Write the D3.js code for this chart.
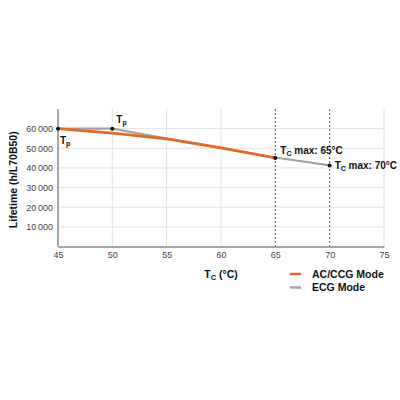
<!DOCTYPE html>
<html>
<head>
<meta charset="utf-8">
<script src="https://cdn.jsdelivr.net/npm/d3@7"></script>
<style>
  html, body { margin: 0; padding: 0; background: #fff; }
  svg { display: block; font-family: "Liberation Sans", Arial, sans-serif; }
</style>
</head>
<body>
<svg id="chart" width="400" height="400"></svg>
<script>
// --- data ---
const tempsAC = [45, 50, 55, 60, 65];
const lifeAC = [60000, 57700, 54800, 50200, 45100];
const tempsECG = [45, 50, 55, 60, 65, 70];
const lifeECG = [60000, 60000, 55000, 50200, 45300, 41300];
const xTicks = [45, 50, 55, 60, 65, 70, 75];
const yTicks = [10000, 20000, 30000, 40000, 50000, 60000];
const maxTemps = [65, 70];

const orange = "#e2692a";
const grey = "#a3a3a3";

const svg = d3.select("#chart");
const plotLeft = 58, plotRight = 384, plotTop = 109, plotBottom = 246.5;

const x = d3.scaleLinear().domain([45, 75]).range([plotLeft, plotRight]);
const y = d3.scaleLinear().domain([0, 70000]).range([plotBottom, plotTop]);

// grid
const grid = svg.append("g");
grid.selectAll("line.h").data(yTicks).join("line")
    .attr("x1", plotLeft).attr("x2", plotRight)
    .attr("y1", d => y(d)).attr("y2", d => y(d))
    .attr("stroke", "#e2e2e2").attr("stroke-width", 1);
grid.selectAll("line.v").data(xTicks.filter(d => d !== 45 && !maxTemps.includes(d))).join("line")
    .attr("x1", d => x(d)).attr("x2", d => x(d))
    .attr("y1", plotTop).attr("y2", plotBottom)
    .attr("stroke", "#e2e2e2").attr("stroke-width", 1);

// dashed Tc max lines
svg.append("g").selectAll("line").data(maxTemps).join("line")
    .attr("x1", d => x(d)).attr("x2", d => x(d))
    .attr("y1", plotTop).attr("y2", plotBottom)
    .attr("stroke", "#333").attr("stroke-width", 0.8)
    .attr("stroke-dasharray", "2,2");

// axes
const fmt = d => d3.format(",")(d).replace(",", "\u2009");
const yAxis = svg.append("g").attr("transform", `translate(${plotLeft},0)`)
    .call(d3.axisLeft(y).tickValues(yTicks).tickSize(0).tickPadding(5).tickFormat(fmt));
const xAxis = svg.append("g").attr("transform", `translate(0,${plotBottom})`)
    .call(d3.axisBottom(x).tickValues(xTicks).tickSize(0).tickPadding(5));
[xAxis, yAxis].forEach(a => {
    a.select(".domain").attr("stroke", "#8a8a8a").attr("stroke-width", 1.5);
    a.selectAll("text").attr("font-size", 9).attr("fill", "#444")
        .attr("font-family", "Liberation Sans, Arial, sans-serif");
});
yAxis.select(".domain").attr("d", `M0,${plotTop}V${plotBottom}`);

// lines
const line = d3.line().x(d => x(d[0])).y(d => y(d[1]));
svg.append("path").datum(d3.zip(tempsECG, lifeECG))
    .attr("d", line).attr("fill", "none")
    .attr("stroke", grey).attr("stroke-width", 2.2);
svg.append("path").datum(d3.zip(tempsAC, lifeAC))
    .attr("d", line).attr("fill", "none")
    .attr("stroke", orange).attr("stroke-width", 2.6)
    .attr("stroke-linejoin", "round");

// marker dots
const dots = [[45, 60000], [50, 60000], [65, lifeAC[4]], [70, lifeECG[5]]];
svg.append("g").selectAll("circle").data(dots).join("circle")
    .attr("cx", d => x(d[0])).attr("cy", d => y(d[1])).attr("r", 2)
    .attr("fill", "#111");

// annotations
function subLabel(px, py, sub, rest) {
    const t = svg.append("text").attr("x", px).attr("y", py)
        .attr("font-size", 10).attr("font-weight", "bold").attr("fill", "#111");
    t.append("tspan").text("T");
    t.append("tspan").attr("font-size", 7).attr("dy", 2).text(sub);
    if (rest) t.append("tspan").attr("dy", -2).text(rest);
    return t;
}
subLabel(x(45) + 2, y(60000) + 15, "p");
subLabel(x(50) + 4, y(60000) - 6, "p");
subLabel(x(65) + 5, y(lifeAC[4]) - 4, "C", " max: 65°C");
subLabel(x(70) + 5, y(lifeECG[5]) + 4, "C", " max: 70°C");

// axis titles
svg.append("text")
    .attr("transform", `translate(17,${(plotTop + plotBottom) / 2 + 2}) rotate(-90)`)
    .attr("text-anchor", "middle").attr("font-size", 10.5).attr("font-weight", "bold")
    .attr("fill", "#111").text("Lifetime (h/L70B50)");

const xt = svg.append("text").attr("x", 221).attr("y", 278)
    .attr("text-anchor", "middle").attr("font-size", 10.5).attr("font-weight", "bold")
    .attr("fill", "#111");
xt.append("tspan").text("T");
xt.append("tspan").attr("font-size", 7.5).attr("dy", 2).text("C");
xt.append("tspan").attr("dy", -2).text(" (°C)");

// legend
const legendNames = ["AC/CCG Mode", "ECG Mode"];
const legendColors = [orange, grey];
const lg = svg.append("g").selectAll("g").data(legendNames).join("g")
    .attr("transform", (d, i) => `translate(290,${274 + i * 13.5})`);
lg.append("line").attr("x1", 0).attr("x2", 11)
    .attr("stroke", (d, i) => legendColors[i]).attr("stroke-width", 2.5);
lg.append("text").attr("x", 22).attr("y", 3.8)
    .attr("font-size", 10.5).attr("font-weight", "bold").attr("fill", "#111")
    .text(d => d);
</script>
</body>
</html>
